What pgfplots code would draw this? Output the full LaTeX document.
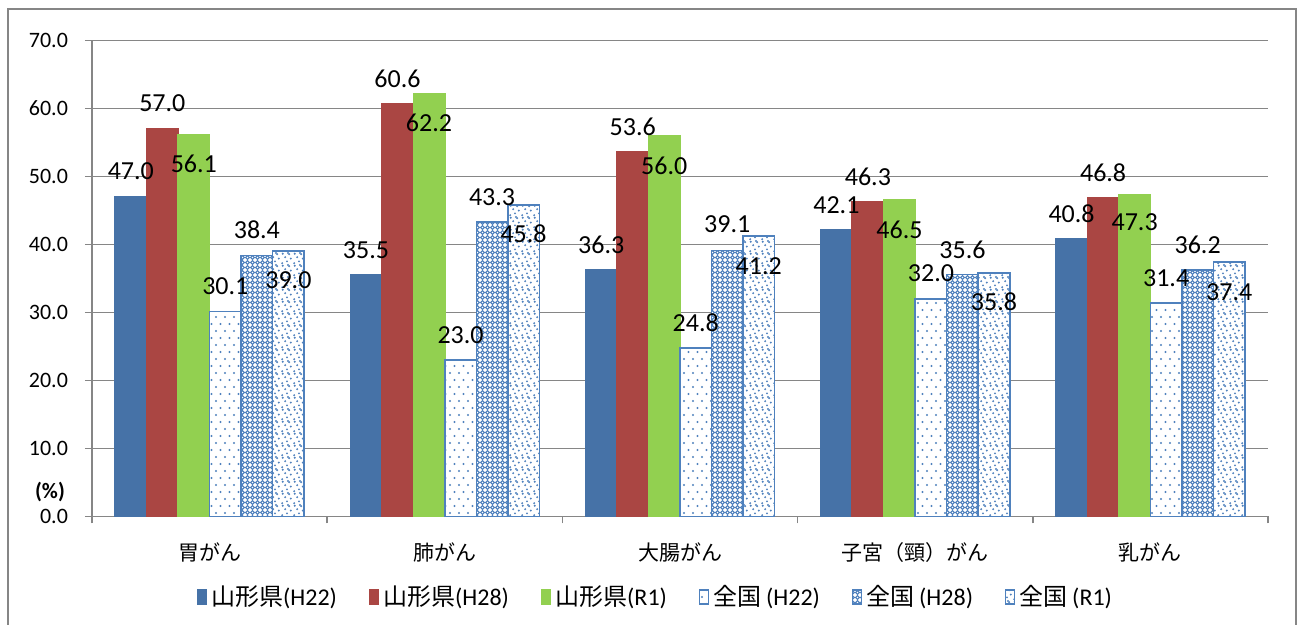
\documentclass[border=0pt]{standalone}
\usepackage{fontspec}
\setmainfont{Carlito}
\newfontfamily\cjk{Noto Sans CJK JP}
\usepackage{pgfplots}
\usepackage{pgfplotstable}
\pgfplotsset{compat=1.18}
\usetikzlibrary{patterns}

\definecolor{c1}{RGB}{70,114,167}
\definecolor{c2}{RGB}{170,70,67}
\definecolor{c3}{RGB}{146,208,80}
\definecolor{cb}{RGB}{79,129,189}
\definecolor{gridgray}{RGB}{134,134,134}

% sparse staggered dots (H22)
\pgfdeclarepatternformonly{sparsedots}{\pgfqpoint{-0.7pt}{-0.7pt}}{\pgfqpoint{5.2pt}{7.7pt}}{\pgfqpoint{4.5pt}{7pt}}{%
  \pgfpathcircle{\pgfqpoint{0pt}{0pt}}{0.6pt}%
  \pgfpathcircle{\pgfqpoint{2.25pt}{3.5pt}}{0.6pt}%
  \pgfusepath{fill}}
% small circles lattice (H28)
\pgfdeclarepatternformonly{circlegrid}{\pgfqpoint{-0.3pt}{-0.3pt}}{\pgfqpoint{2.8pt}{2.8pt}}{\pgfqpoint{2.5pt}{2.5pt}}{%
  \pgfsetlinewidth{0.5pt}%
  \pgfpathcircle{\pgfqpoint{1.25pt}{1.25pt}}{0.95pt}%
  \pgfusepath{stroke}}
% irregular dots (R1)
\pgfdeclarepatternformonly{randdots}{\pgfqpoint{-0.6pt}{-0.6pt}}{\pgfqpoint{6.6pt}{6.6pt}}{\pgfqpoint{6pt}{6pt}}{%
  \pgfpathcircle{\pgfqpoint{0pt}{0pt}}{0.55pt}%
  \pgfpathcircle{\pgfqpoint{3.1pt}{0.9pt}}{0.55pt}%
  \pgfpathcircle{\pgfqpoint{1.4pt}{3.2pt}}{0.55pt}%
  \pgfpathcircle{\pgfqpoint{4.6pt}{3.9pt}}{0.55pt}%
  \pgfpathcircle{\pgfqpoint{0.6pt}{5.4pt}}{0.55pt}%
  \pgfpathcircle{\pgfqpoint{3.4pt}{5.6pt}}{0.55pt}%
  \pgfpathcircle{\pgfqpoint{5.5pt}{1.8pt}}{0.55pt}%
  \pgfusepath{fill}}

% values (s) and label heights (l)
\pgfplotstableread{
x  s1   s2   s3   s4   s5   s6    l1   l2   l3   l4   l5   l6
0  47.0 57.0 56.1 30.1 38.4 39.0  50.7 60.8 51.8 33.8 42.1 34.7
1  35.5 60.6 62.2 23.0 43.3 45.8  39.2 64.3 57.9 26.7 47.0 41.5
2  36.3 53.6 56.0 24.8 39.1 41.2  39.9 57.3 51.5 28.5 42.9 36.8
3  42.1 46.3 46.5 32.0 35.6 35.8  45.7 49.9 42.1 35.8 39.2 31.5
4  40.8 46.8 47.3 31.4 36.2 37.4  44.5 50.5 43.2 35.1 39.9 33.0
}\data

\pgfplotsset{
  bars/.style={ybar, bar width=0.134, line width=0.75pt},
  lbl/.style={draw=none, mark=none, forget plot,
    nodes near coords={\pgfmathprintnumber[fixed,fixed zerofill,precision=1,assume math mode=true]{\pgfplotspointmeta}},
    point meta=explicit,
    nodes near coords style={font=\fontsize{13}{15}\selectfont, anchor=center, text=black, inner sep=0pt}},
}

\begin{document}
\begin{tikzpicture}
\useasboundingbox (0,0) rectangle (651.5pt,312.5pt);
\draw[gridgray, line width=0.9pt] (4pt,-5pt) -- (4pt,308pt) -- (648pt,308pt) -- (648pt,-5pt);
\begin{axis}[
  at={(46pt,54.25pt)}, anchor=south west,
  scale only axis, width=588pt, height=238.1pt,
  xmin=-0.5, xmax=4.5, ymin=0, ymax=70,
  axis lines*=left,
  axis line style={draw=gridgray, line width=0.9pt},
  ytick={0,10,...,70},
  yticklabel style={/pgf/number format/fixed, /pgf/number format/fixed zerofill,
    /pgf/number format/precision=1, /pgf/number format/assume math mode=true,
    font=\fontsize{11}{13}\selectfont, xshift=-5pt},
  ymajorgrids, grid style={gridgray, line width=0.75pt},
  xtick={0,...,4},
  xticklabels={胃がん, 肺がん, 大腸がん, 子宮（頸）がん, 乳がん},
  xticklabel style={font=\cjk\fontsize{10.5}{12}\selectfont, yshift=-6pt},
  minor xtick={-0.5,0.5,...,4.5},
  tick align=outside, major tick length=3.5pt, minor tick length=3.5pt,
  tick style={gridgray, line width=0.75pt},
  major x tick style={draw=none},
  legend columns=6,
  legend style={at={(0.48,-0.169)}, anchor=center, draw=none,
    font=\fontsize{12}{14}\selectfont,
    /tikz/every even column/.append style={column sep=14pt}},
  legend cell align=left,
  legend image code/.code={\draw[#1, line width=0.6pt] (0pt,-3.5pt) rectangle (4.5pt,3.5pt);},
]
\addplot[bars, bar shift=-0.335, fill=c1, draw=c1] table[x=x, y=s1]{\data};
\addlegendentry{{\cjk 山形県}(H22)}
\addplot[bars, bar shift=-0.201, fill=c2, draw=c2] table[x=x, y=s2]{\data};
\addlegendentry{{\cjk 山形県}(H28)}
\addplot[bars, bar shift=-0.067, fill=c3, draw=c3] table[x=x, y=s3]{\data};
\addlegendentry{{\cjk 山形県}(R1)}
\addplot[bars, bar shift=0.067, fill=white, draw=cb, postaction={pattern=sparsedots, pattern color=cb}] table[x=x, y=s4]{\data};
\addlegendentry{{\cjk 全国}\hspace{2.5pt}(H22)\hspace{2.5pt}}
\addplot[bars, bar shift=0.201, fill=white, draw=cb, postaction={pattern=circlegrid, pattern color=cb}] table[x=x, y=s5]{\data};
\addlegendentry{{\cjk 全国}\hspace{2.5pt}(H28)\hspace{2.5pt}}
\addplot[bars, bar shift=0.335, fill=white, draw=cb, postaction={pattern=randdots, pattern color=cb}] table[x=x, y=s6]{\data};
\addlegendentry{{\cjk 全国}\hspace{2.5pt}(R1)}

\addplot[lbl] table[x expr=\thisrow{x}-0.335, y=l1, meta=s1]{\data};
\addplot[lbl] table[x expr=\thisrow{x}-0.201, y=l2, meta=s2]{\data};
\addplot[lbl] table[x expr=\thisrow{x}-0.067, y=l3, meta=s3]{\data};
\addplot[lbl] table[x expr=\thisrow{x}+0.067, y=l4, meta=s4]{\data};
\addplot[lbl] table[x expr=\thisrow{x}+0.201, y=l5, meta=s5]{\data};
\addplot[lbl] table[x expr=\thisrow{x}+0.335, y=l6, meta=s6]{\data};
\end{axis}
\node[font=\bfseries\fontsize{11}{13}\selectfont] at (25pt,66.5pt) {(\%)};
\end{tikzpicture}
\end{document}
